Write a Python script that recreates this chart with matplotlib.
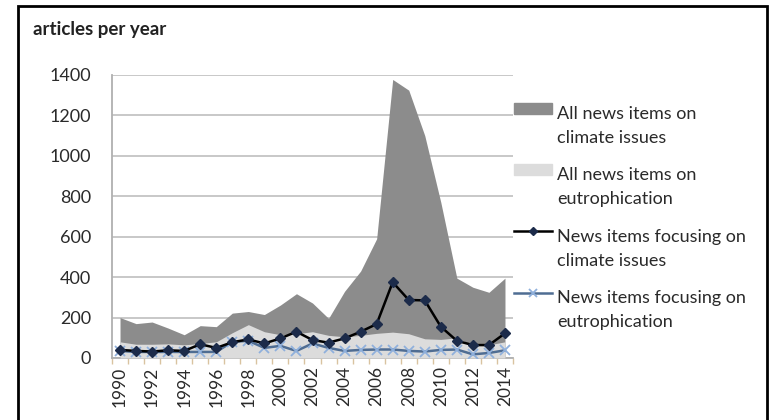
import matplotlib.pyplot as plt
import matplotlib.patches as mpatches
import matplotlib.transforms as mtransforms
from matplotlib.lines import Line2D
from matplotlib.legend_handler import HandlerLine2D, HandlerPatch
import numpy as np

plt.rcParams["font.family"] = ["Lato", "DejaVu Sans"]

# ── Data ─────────────────────────────────────────────────────────────────────
years = list(range(1990, 2015))
climate_all = [200, 170, 178, 148, 115, 160, 155, 222, 230, 215, 262, 318, 272,
               196, 330, 430, 590, 1378, 1325, 1100, 770, 395, 350, 325, 395]
eutro_all = [80, 68, 68, 70, 65, 72, 80, 125, 165, 130, 115, 120, 130,
             112, 105, 112, 122, 128, 120, 95, 92, 100, 62, 65, 80]
climate_focus = [40, 35, 32, 38, 35, 68, 50, 78, 92, 72, 97, 130, 89,
                 76, 97, 130, 168, 375, 287, 285, 155, 85, 64, 64, 122]
eutro_focus = [35, 30, 30, 30, 30, 30, 30, 80, 85, 50, 60, 35, 72,
               50, 35, 40, 42, 42, 35, 32, 40, 42, 18, 25, 38]

labels = ["All news items on\nclimate issues",
          "All news items on\neutrophication",
          "News items focusing on\nclimate issues",
          "News items focusing on\neutrophication"]

DARK = "#8c8c8c"
LIGHT = "#dcdcdc"
NAVY = "#1c2b4a"
STEEL = "#4f6d93"
XBLUE = "#8fb0dc"
TXT = "#2a2a2a"

# legend handles sit next to the first line of each two-line label (Excel style)
SHIFT = 9.3  # points


class TopLine(HandlerLine2D):
    def create_artists(self, legend, orig_handle, xdescent, ydescent, width,
                       height, fontsize, trans):
        trans = mtransforms.Affine2D().translate(0, SHIFT * legend.figure.dpi / 72) + trans
        return super().create_artists(legend, orig_handle, xdescent, ydescent,
                                      width, height, fontsize, trans)


class TopPatch(HandlerPatch):
    def create_artists(self, legend, orig_handle, xdescent, ydescent, width,
                       height, fontsize, trans):
        trans = mtransforms.Affine2D().translate(0, SHIFT * legend.figure.dpi / 72) + trans
        return super().create_artists(legend, orig_handle, xdescent, ydescent,
                                      width, height, fontsize, trans)


fig = plt.figure(figsize=(7.73, 4.2), dpi=100)
ax = fig.add_axes([112 / 773, 62 / 420, 401 / 773, 283 / 420])

x = np.arange(len(years))
ax.fill_between(x, 0, climate_all, color=DARK, linewidth=0, zorder=2)
ax.fill_between(x, 0, eutro_all, color=LIGHT, linewidth=0, zorder=3)
ax.plot(x, climate_focus, color="black", linewidth=1.8, marker="D",
        markersize=5, markerfacecolor=NAVY, markeredgecolor=NAVY, zorder=5)
ax.plot(x, eutro_focus, color=STEEL, linewidth=1.8, marker="x",
        markersize=7, markeredgecolor=XBLUE, markeredgewidth=1.3, zorder=4)

ax.set_xlim(-0.5, len(years) - 0.5)
ax.set_ylim(0, 1400)
ax.set_yticks(range(0, 1401, 200))
ax.tick_params(axis="y", length=0, labelsize=13, colors=TXT, pad=15)
ax.yaxis.grid(True, color="#c4c4c4", linewidth=1.3, zorder=0)
ax.set_axisbelow(True)

ax.set_xticks(x[::2])
ax.set_xticklabels([str(y) for y in years[::2]], rotation=90, fontsize=12.5,
                   color=TXT)
ax.set_xticks(np.arange(-0.5, len(years), 1), minor=True)
ax.tick_params(axis="x", which="major", length=0, pad=6)
ax.tick_params(axis="x", which="minor", length=4, color="#d9c3a0", width=1)

for s in ["top", "right"]:
    ax.spines[s].set_visible(False)
ax.spines["left"].set_color("#b0b0b0")
ax.spines["left"].set_linewidth(1.3)
ax.spines["bottom"].set_color("#b0b0b0")
ax.spines["bottom"].set_linewidth(1.3)

fig.text(33 / 773, 1 - 30 / 420, "articles per year", fontsize=13.5,
         fontweight="bold", va="center", ha="left", color="#222222")

handles = [
    mpatches.Patch(color=DARK),
    mpatches.Patch(color=LIGHT),
    Line2D([], [], color="black", linewidth=1.8, marker="D", markersize=4,
           markerfacecolor=NAVY, markeredgecolor=NAVY),
    Line2D([], [], color=STEEL, linewidth=1.8, marker="x", markersize=6,
           markeredgecolor=XBLUE, markeredgewidth=1.3),
]
leg = fig.legend(handles, labels, loc="upper left",
                 bbox_to_anchor=(514 / 773, 1 - 106 / 420), frameon=False,
                 fontsize=13, handlelength=2.1, handleheight=0.55,
                 handletextpad=0.3, labelspacing=1.2, borderpad=0,
                 borderaxespad=0, labelcolor=TXT,
                 handler_map={mpatches.Patch: TopPatch(), Line2D: TopLine()})
for t in leg.get_texts():
    t.set_linespacing(1.6)

# figure border
fig.add_artist(mpatches.Rectangle((18 / 773, -0.05), 749 / 773, 1.05 - 6 / 420,
                                  transform=fig.transFigure, fill=False,
                                  edgecolor="black", linewidth=2))

fig.savefig("out.png", dpi=100)
